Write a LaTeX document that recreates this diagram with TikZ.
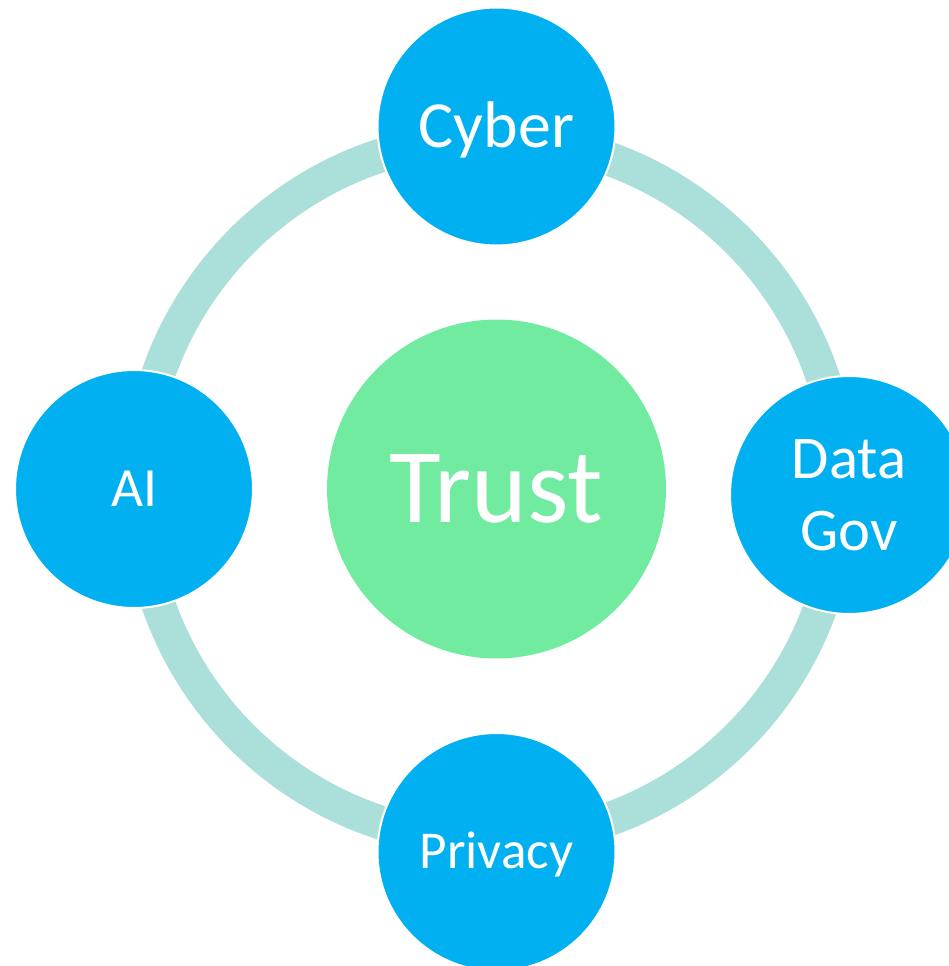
\documentclass[tikz,border=0pt]{standalone}
\usepackage{fontspec}
\setmainfont{Carlito}
\usepackage{tikz}
\definecolor{SkyBlue}{HTML}{00B0F0}
\definecolor{Mint}{HTML}{70EBA0}
\definecolor{Seafoam}{HTML}{ABE0DA}
\tikzset{
  satellite/.style={circle, fill=SkyBlue, draw=white, line width=0.04cm,
    minimum size=4.76cm, inner sep=0pt, text=white, align=center},
  hub/.style={circle, fill=Mint, minimum size=6.78cm, inner sep=0pt, text=white},
  fsize/.style 2 args={font=\fontsize{#1}{#2}\selectfont},
}

\begin{document}
\begin{tikzpicture}[x=0.02cm, y=-0.02cm]
  \useasboundingbox (0,0) rectangle (949,966);
  \path[coordinate] (490,489) coordinate(ring)
              (496.5,489) coordinate(O)
              (496.5,126.5) coordinate(N)
              (849,495) coordinate(E)
              (496.5,852) coordinate(S)
              (134,489) coordinate(W);
  % the ring behind the satellites
  \draw[Seafoam, line width=0.68cm] (ring) circle[radius=7.02cm];
  \node[hub, fsize={60.3}{72}, text height=38.1pt, text depth=0pt] (trust) at (O) {Trust};
  \node[satellite, fsize={37.5}{45}, text height=23.7pt, text depth=0pt] (cyber) at (N) {Cyber};
  \node[satellite, fsize={34.5}{41}] (datagov) at (E) {Data\\Gov};
  \node[satellite, fsize={30.3}{36}, text height=19.1pt, text depth=0pt] (privacy) at (S) {Privacy};
  \node[satellite, fsize={31.5}{38}, text height=19.9pt, text depth=0pt] (ai) at (W) {AI};
\end{tikzpicture}
\end{document}
